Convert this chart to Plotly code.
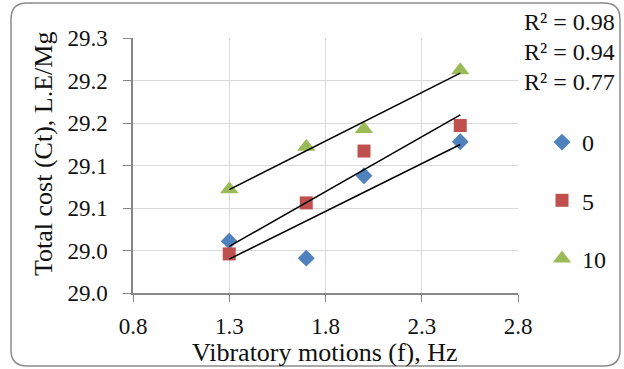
import numpy as np
import plotly.graph_objects as go

# ---- data ----
freq_hz = [1.3, 1.7, 2.0, 2.5]
cost_0 = [29.061, 29.041, 29.138, 29.178]
cost_5 = [29.046, 29.106, 29.167, 29.197]
cost_10 = [29.122, 29.172, 29.193, 29.262]
series_names = ["0", "5", "10"]
r2_labels = ["R² = 0.98", "R² = 0.94", "R² = 0.77"]
x_ticks = [0.8, 1.3, 1.8, 2.3, 2.8]
y_tickvals = [29.00, 29.05, 29.10, 29.15, 29.20, 29.25, 29.30]
y_ticktext = ["29.0", "29.0", "29.1", "29.1", "29.2", "29.2", "29.3"]

colors = ["#4F81BD", "#C0504D", "#9BBB59"]
symbols = ["diamond", "square", "triangle-up"]
sizes = [13, 13, 16]
FONT = "Liberation Serif"
FS = 24
TFS = 26
TICKFS = 23

W, H = 624, 369
L, T, PW, PH = 133, 38, 385, 255


def px(x):
    return (x - L) / PW


def py(y):
    return (T + PH - y) / PH


fig = go.Figure()
all_series = [cost_0, cost_5, cost_10]
for i, ys in enumerate(all_series):
    fig.add_trace(go.Scatter(
        x=freq_hz, y=ys, mode="markers", name=series_names[i],
        legendgroup=series_names[i],
        marker=dict(symbol=symbols[i], size=sizes[i], color=colors[i]),
        cliponaxis=False,
    ))
for i, ys in enumerate(all_series):
    k, b = np.polyfit(freq_hz, ys, 1)
    xs = [min(freq_hz), max(freq_hz)]
    fig.add_trace(go.Scatter(
        x=xs, y=[k * v + b for v in xs], mode="lines",
        line=dict(color="black", width=1.5), showlegend=False,
        hoverinfo="skip",
    ))

# rounded border
r = 16
x0, y0, x1, y1 = 11, 3, 620, 366
path = (f"M {px(x0 + r)},{py(y0)} L {px(x1 - r)},{py(y0)} "
        f"Q {px(x1)},{py(y0)} {px(x1)},{py(y0 + r)} "
        f"L {px(x1)},{py(y1 - r)} Q {px(x1)},{py(y1)} {px(x1 - r)},{py(y1)} "
        f"L {px(x0 + r)},{py(y1)} Q {px(x0)},{py(y1)} {px(x0)},{py(y1 - r)} "
        f"L {px(x0)},{py(y0 + r)} Q {px(x0)},{py(y0)} {px(x0 + r)},{py(y0)} Z")
fig.add_shape(type="path", path=path, xref="paper", yref="paper",
              line=dict(color="#8C8C8C", width=1.5), layer="below")

# R² annotations
for j, (lab, yy) in enumerate(zip(r2_labels, [22, 52, 82])):
    fig.add_annotation(text=lab, xref="paper", yref="paper", x=px(617), y=py(yy),
                       xanchor="right", yanchor="middle", showarrow=False,
                       font=dict(family=FONT, size=FS, color="#111"))

# y-axis title as annotation
fig.add_annotation(text="Total cost (Ct), L.E/Mg", xref="paper", yref="paper",
                   x=px(43), y=py(154), textangle=-90, showarrow=False,
                   xanchor="center", yanchor="middle",
                   font=dict(family=FONT, size=TFS, color="#111"))
# x-axis title as annotation
fig.add_annotation(text="Vibratory motions (f), Hz", xref="paper", yref="paper",
                   x=px(325), y=py(352), showarrow=False,
                   xanchor="center", yanchor="middle",
                   font=dict(family=FONT, size=TFS, color="#111"))

fig.update_layout(
    width=W, height=H,
    margin=dict(l=L, r=W - L - PW, t=T, b=H - T - PH, autoexpand=False),
    paper_bgcolor="white", plot_bgcolor="white",
    font=dict(family=FONT, size=FS, color="#111"),
    legend=dict(x=px(542), y=py(120), xanchor="left", yanchor="top",
                tracegroupgap=24, font=dict(family=FONT, size=FS),
                bgcolor="rgba(0,0,0,0)"),
    xaxis=dict(range=[0.8, 2.8], tickvals=x_ticks, ticktext=[f"{v:.1f}" for v in x_ticks],
               showgrid=True, gridcolor="#D9D9D9", gridwidth=1,
               showline=True, linecolor="#868686", linewidth=1.5,
               ticks="outside", ticklen=7, tickcolor="#868686",
               ticklabelstandoff=5, zeroline=False,
               tickfont=dict(family=FONT, size=TICKFS)),
    yaxis=dict(range=[29.0, 29.3], tickvals=y_tickvals, ticktext=y_ticktext,
               showgrid=True, gridcolor="#D9D9D9", gridwidth=1,
               showline=True, linecolor="#868686", linewidth=1.5,
               ticks="outside", ticklen=8, tickcolor="#868686",
               ticklabelstandoff=11, zeroline=False,
               tickfont=dict(family=FONT, size=TICKFS)),
    showlegend=True,
)

fig.write_html("out.html", config={"displayModeBar": False},
               post_script="document.body.style.margin='0';document.body.style.padding='0';")
